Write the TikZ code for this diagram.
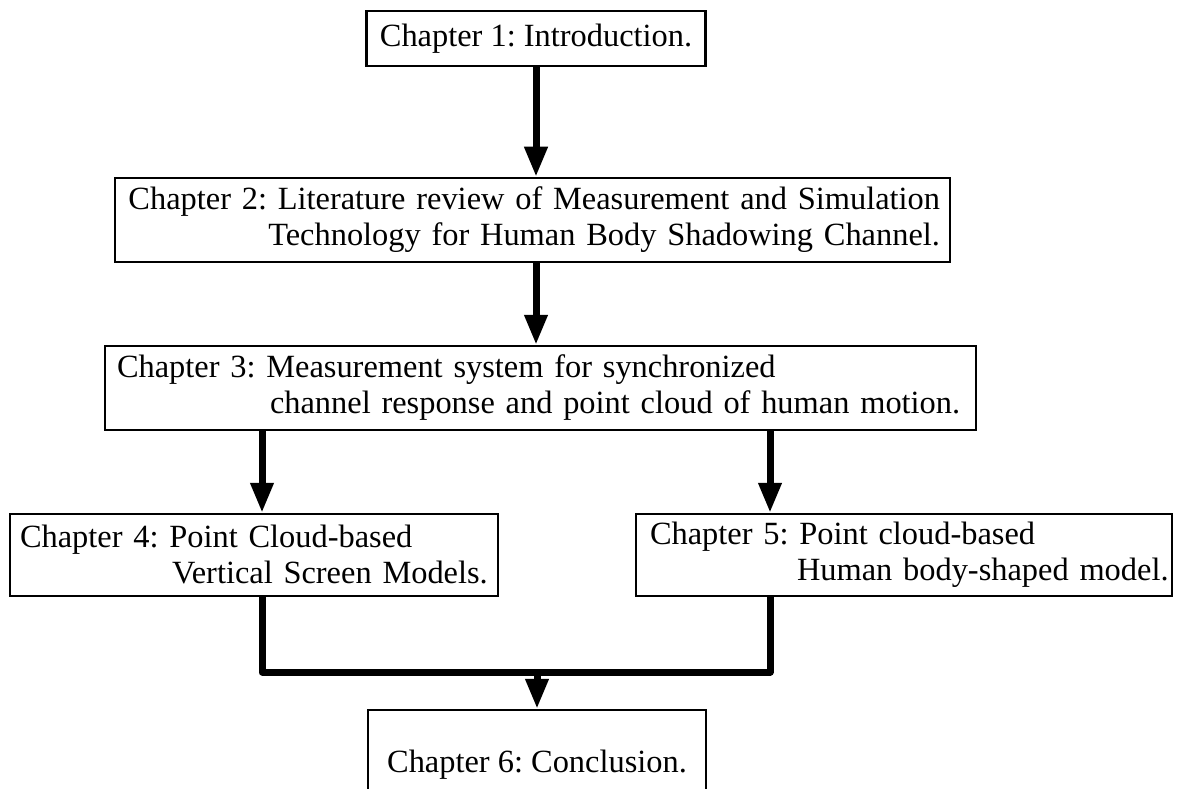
\documentclass[tikz,border=0pt]{standalone}
\usepackage{fontspec}
\setmainfont{Liberation Serif}
\usetikzlibrary{arrows.meta}

\begin{document}
\begin{tikzpicture}[x=1pt,y=-1pt,
  chap/.style={draw, line width=2.5pt, inner sep=0pt,
    font=\fontsize{32.4}{36}\selectfont\frenchspacing},
  arr/.style={line width=7pt, -{Triangle[length=30pt,width=22pt]}},
  bar/.style={line width=7pt, line join=round}]
\useasboundingbox (0,0) rectangle (1181,789);

% Chapters
\node[chap, minimum width=339, minimum height=55] (ch1) at (536,38.5) {Chapter 1: Introduction.};
\node[chap, minimum width=835, minimum height=84, text width=815, align=right] (ch2) at (532.5,220)
  {\mbox{Chapter 2: Literature review of Measurement and Simulation}\\
   \mbox{Technology for Human Body Shadowing Channel.}};
\node[chap, minimum width=871, minimum height=84, text width=847, align=left] (ch3) at (540.5,388)
  {\mbox{Chapter 3: Measurement system for synchronized}\\
   \mbox{\hspace*{153pt}channel response and point cloud of human motion.}};
\node[chap, minimum width=488, minimum height=82, text width=468, align=left] (ch4) at (254,555)
  {\mbox{Chapter 4: Point Cloud-based}\\
   \mbox{\hspace*{152pt}Vertical Screen Models.}};
\node[chap, minimum width=536, minimum height=82, text width=508, align=left] (ch5) at (904,555)
  {\mbox{Chapter 5: Point cloud-based}\\
   \mbox{\hspace*{147pt}Human body-shaped model.}};
\node[chap, minimum width=338, minimum height=110] (ch6) at (537,765) {Chapter 6: Conclusion.};

% Helper points
\coordinate (lx) at (262,0);   % left branch
\coordinate (rx) at (770,0);   % right branch
\coordinate (join) at (537,672); % meeting point

% Arrows
\draw[arr] (ch1.south) -- (ch1.south |- ch2.north);
\draw[arr] (ch2.south -| ch1.south) -- (ch3.north -| ch1.south);
\draw[arr] (ch3.south -| lx) -- (ch4.north -| lx);
\draw[arr] (ch3.south -| rx) -- (ch5.north -| rx);

% Merge
\draw[bar] (ch4.south -| lx) -- (lx |- join) -- (rx |- join) -- (ch5.south -| rx);
\draw[arr] (join) -- (ch6.north -| join);
\end{tikzpicture}
\end{document}
